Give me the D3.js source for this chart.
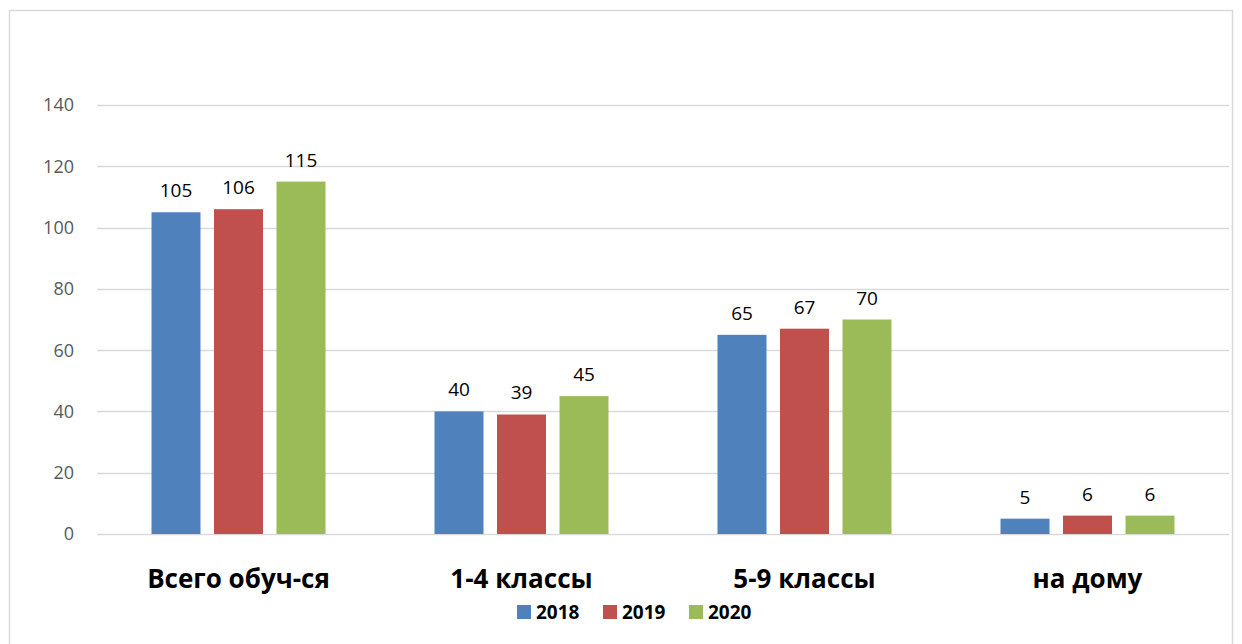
<!DOCTYPE html>
<html>
<head>
<meta charset="utf-8">
<script src="https://d3js.org/d3.v7.min.js"></script>
<style>
  body { margin: 0; background: #fff; }
  text { font-family: "Open Sans", "DejaVu Sans", sans-serif; }
</style>
</head>
<body>
<svg id="chart" width="1242" height="644"></svg>
<script>
// data
var categories = ["Всего обуч-ся", "1-4 классы", "5-9 классы", "на дому"];
var years = ["2018", "2019", "2020"];
var values2018 = [105, 40, 65, 5];
var values2019 = [106, 39, 67, 6];
var values2020 = [115, 45, 70, 6];
var yTicks = [0, 20, 40, 60, 80, 100, 120, 140];
var colors = ["#4f81bd", "#c0504d", "#9bbb59"];

var series = [values2018, values2019, values2020];

var svg = d3.select("#chart");

// outer frame
svg.append("rect")
  .attr("x", 9.5).attr("y", 10.5)
  .attr("width", 1223).attr("height", 640)
  .attr("fill", "none").attr("stroke", "#d9d9d9").attr("stroke-width", 1.5);

var plotL = 97, plotR = 1229, plotT = 105, plotB = 534;

var x = d3.scaleBand().domain(categories).range([plotL, plotR]).paddingInner(0).paddingOuter(0);
var xs = d3.scaleBand().domain(years).range([0, x.bandwidth()]).paddingInner(0.216).paddingOuter(0.872);
var y = d3.scaleLinear().domain([0, 140]).range([plotB, plotT]);

// gridlines
svg.append("g")
  .selectAll("line")
  .data(yTicks)
  .enter().append("line")
  .attr("x1", plotL).attr("x2", plotR)
  .attr("y1", function(d) { return Math.round(y(d)) + 0.5; })
  .attr("y2", function(d) { return Math.round(y(d)) + 0.5; })
  .attr("stroke", "#d9d9d9").attr("stroke-width", 1.5);

// y tick labels
svg.append("g")
  .selectAll("text")
  .data(yTicks)
  .enter().append("text")
  .attr("x", 74)
  .attr("y", function(d) { return y(d); })
  .attr("dy", "0.36em")
  .attr("text-anchor", "end")
  .attr("fill", "#595959")
  .style("font-size", "18px")
  .text(function(d) { return d; });

// bars
var groups = svg.append("g")
  .selectAll("g")
  .data(categories)
  .enter().append("g")
  .attr("transform", function(d) { return "translate(" + x(d) + ",0)"; });

groups.selectAll("rect")
  .data(function(d, i) { return years.map(function(yr, j) { return {year: yr, v: series[j][i], c: colors[j]}; }); })
  .enter().append("rect")
  .attr("x", function(d) { return xs(d.year); })
  .attr("width", xs.bandwidth())
  .attr("y", function(d) { return y(d.v); })
  .attr("height", function(d) { return plotB - y(d.v); })
  .attr("fill", function(d) { return d.c; });

groups.selectAll("text")
  .data(function(d, i) { return years.map(function(yr, j) { return {year: yr, v: series[j][i]}; }); })
  .enter().append("text")
  .attr("x", function(d) { return xs(d.year) + xs.bandwidth() / 2; })
  .attr("y", function(d) { return y(d.v) - 15; })
  .attr("text-anchor", "middle")
  .attr("fill", "#000")
  .style("font-size", "19px")
  .text(function(d) { return d.v; });

// category labels
svg.append("g")
  .selectAll("text")
  .data(categories)
  .enter().append("text")
  .attr("x", function(d) { return x(d) + x.bandwidth() / 2; })
  .attr("y", 588)
  .attr("text-anchor", "middle")
  .style("font-size", "26px")
  .style("font-weight", "bold")
  .text(function(d) { return d; });

// legend
var legendX = [517, 603, 689];
var legend = svg.append("g")
  .selectAll("g")
  .data(years)
  .enter().append("g")
  .attr("transform", function(d, i) { return "translate(" + legendX[i] + ",605)"; });
legend.append("rect")
  .attr("width", 14).attr("height", 14)
  .attr("fill", function(d, i) { return colors[i]; });
legend.append("text")
  .attr("x", 19).attr("y", 14)
  .style("font-size", "19px")
  .style("font-weight", "bold")
  .text(function(d) { return d; });
</script>
</body>
</html>
